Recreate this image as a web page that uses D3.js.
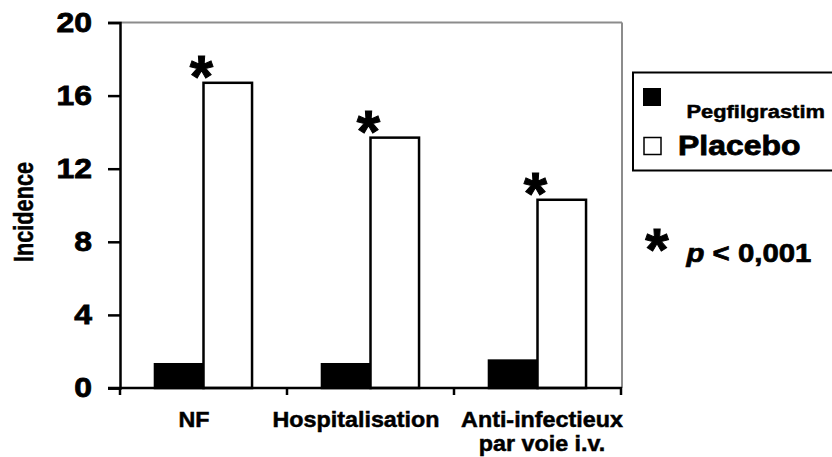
<!DOCTYPE html>
<html>
<head>
<meta charset="utf-8">
<script src="https://cdn.jsdelivr.net/npm/d3@7/dist/d3.min.js"></script>
<style>
  html, body { margin: 0; padding: 0; background: #fff; }
  svg { display: block; font-family: "Liberation Sans", Arial, Helvetica, sans-serif; font-weight: bold; }
  svg text { stroke: #000; stroke-width: 0.5px; }
</style>
</head>
<body>
<svg id="chart" width="832" height="457"></svg>
<script>
// ---- data ----
const categories = ["NF", "Hospitalisation", "Anti-infectieux par voie i.v."];
const categoryLabels = [["NF"], ["Hospitalisation"], ["Anti-infectieux", "par voie i.v."]];
const seriesNames = ["Pegfilgrastim", "Placebo"];
const pegfilgrastim = [1.3, 1.3, 1.5];
const placebo = [16.7, 13.7, 10.3];
const significant = [true, true, true];
const yTicks = [0, 4, 8, 12, 16, 20];
const yLabel = "Incidence";
const pNote = "p < 0,001";

(function () {
// ---- layout ----
const svg = d3.select("#chart");
const mLeft = 120, mRight = 621, mTop = 22.5, mBottom = 388;
const labelDx = [-9.5, -14.5, 4.5];

const x = d3.scaleBand().domain(categories).range([mLeft, mRight]).paddingInner(0).paddingOuter(0);
const xs = d3.scaleBand().domain(seriesNames).range([0, x.bandwidth()]).paddingInner(0).paddingOuter(0.72);
const y = d3.scaleLinear().domain([0, 20]).range([mBottom, mTop]);
const fills = { "Pegfilgrastim": "#000", "Placebo": "#fff" };

function txt(g, px, py, s, size, anchor, sx) {
  return g.append("text")
    .attr("transform", `translate(${px},${py}) scale(${sx},1)`)
    .attr("text-anchor", anchor)
    .attr("font-size", size)
    .attr("fill", "#000")
    .text(s);
}

// frame (gray top & right)
svg.append("line").attr("x1", mLeft).attr("x2", mRight + 1).attr("y1", mTop).attr("y2", mTop)
  .attr("stroke", "#8c8c8c").attr("stroke-width", 2);
svg.append("line").attr("x1", mRight + 1).attr("x2", mRight + 1).attr("y1", mTop).attr("y2", mBottom)
  .attr("stroke", "#8c8c8c").attr("stroke-width", 2);

// bars
const rows = categories.map((c, i) => ({ cat: c, values: [
  { s: "Pegfilgrastim", v: pegfilgrastim[i] },
  { s: "Placebo", v: placebo[i] }
]}));
const grp = svg.append("g").selectAll("g").data(rows).join("g")
  .attr("transform", d => `translate(${x(d.cat)},0)`);
grp.selectAll("rect").data(d => d.values).join("rect")
  .attr("x", d => xs(d.s))
  .attr("width", xs.bandwidth())
  .attr("y", d => y(d.v))
  .attr("height", d => y(0) - y(d.v))
  .attr("fill", d => fills[d.s])
  .attr("stroke", "#000")
  .attr("stroke-width", 2.5);

// significance asterisks
categories.forEach((c, i) => {
  if (!significant[i]) return;
  const cx = x(c) + x.bandwidth() / 2 - 2;
  const cy = y(placebo[i]) - 22;
  txt(svg, cx, cy + 36, "*", 60, "middle", 1).style("stroke-width", "1px");
});

// y axis
const yAxis = d3.axisLeft(y).tickValues(yTicks).tickSize(12).tickPadding(12.5).tickFormat(d3.format("d"));
const ya = svg.append("g").attr("transform", `translate(${mLeft},0)`).call(yAxis);
ya.select(".domain").attr("stroke", "#000").attr("stroke-width", 2.5);
ya.selectAll(".tick line").attr("stroke", "#000").attr("stroke-width", 2.5);
ya.selectAll(".tick text").attr("font-size", 28).attr("font-family", null).attr("fill", "#000")
  .attr("transform", `scale(1.14,1)`).style("stroke-width", "0.8px");

// x axis
svg.append("line").attr("x1", mLeft - 12).attr("x2", mRight + 1).attr("y1", mBottom).attr("y2", mBottom)
  .attr("stroke", "#000").attr("stroke-width", 2.5);
const xTickPos = categories.map(c => x(c)).concat([x(categories[categories.length - 1]) + x.bandwidth()]);
svg.append("g").selectAll("line").data(xTickPos).join("line")
  .attr("x1", d => d).attr("x2", d => d).attr("y1", mBottom).attr("y2", mBottom + 7)
  .attr("stroke", "#000").attr("stroke-width", 2.5);
categoryLabels.forEach((lines, i) => {
  const cx = x(categories[i]) + x.bandwidth() / 2 + labelDx[i];
  lines.forEach((l, j) => txt(svg, cx, 427 + j * 24, l, 22, "middle", 1.06));
});

// y label
svg.append("text")
  .attr("transform", "translate(33,212) rotate(-90)")
  .attr("text-anchor", "middle").attr("font-size", 27)
  .attr("textLength", 100).attr("lengthAdjust", "spacingAndGlyphs")
  .text(yLabel);

// legend
const lg = svg.append("g");
lg.append("rect").attr("x", 633).attr("y", 72.5).attr("width", 230).attr("height", 98)
  .attr("fill", "#fff").attr("stroke", "#000").attr("stroke-width", 2);
lg.append("rect").attr("x", 643).attr("y", 88).attr("width", 18).attr("height", 18)
  .attr("fill", fills["Pegfilgrastim"]);
txt(lg, 686.5, 118, seriesNames[0], 19, "start", 1.15);
lg.append("rect").attr("x", 644).attr("y", 137.5).attr("width", 17).attr("height", 17)
  .attr("fill", fills["Placebo"]).attr("stroke", "#000").attr("stroke-width", 1.5);
txt(lg, 678, 155, seriesNames[1], 28, "start", 1.14).style("stroke-width", "0.8px");

// p-value note
txt(svg, 657, 234 + 36, "*", 60, "middle", 1).style("stroke-width", "1px");
const pt = svg.append("text").attr("transform", `translate(686.5,261.5) scale(1.13,1)`)
  .attr("font-size", 26).attr("fill", "#000").style("stroke-width", "0.7px");
pt.append("tspan").attr("font-style", "italic").text(pNote.slice(0, 1));
pt.append("tspan").text(pNote.slice(1));
})();
</script>
</body>
</html>
